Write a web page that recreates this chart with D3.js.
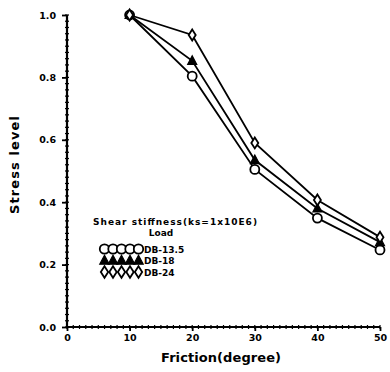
<!DOCTYPE html>
<html><head><meta charset="utf-8">
<script src="https://cdn.jsdelivr.net/npm/d3@7/dist/d3.min.js"></script>
<style>body{margin:0;background:#fff}svg{display:block}text{font-family:"DejaVu Sans",sans-serif;font-weight:bold;fill:#000}</style>
</head><body>
<script>
const friction = [10, 20, 30, 40, 50];
const db135 = [1.0, 0.804, 0.505, 0.349, 0.247];
const db18 = [1.0, 0.853, 0.535, 0.380, 0.272];
const db24 = [1.0, 0.936, 0.590, 0.407, 0.288];
const seriesNames = ["DB-13.5", "DB-18", "DB-24"];
const xTicks = [0, 10, 20, 30, 40, 50];
const yTicks = [0.0, 0.2, 0.4, 0.6, 0.8, 1.0];

const W = 390, H = 372;
const svg = d3.select("body").append("svg").attr("width", W).attr("height", H);
const x = d3.scaleLinear().domain([0, 50]).range([67, 380]);
const y = d3.scaleLinear().domain([0, 1]).range([327, 15]);

// minor ticks
const g = svg.append("g").attr("stroke", "#000");
d3.range(0, 50.01, 1).forEach(v => {
  g.append("line").attr("x1", x(v)).attr("x2", x(v)).attr("y1", y(0) - 2).attr("y2", y(0) + 2).attr("stroke-width", 1.2);
});
d3.range(0, 1.001, 0.02).forEach(v => {
  g.append("line").attr("y1", y(v)).attr("y2", y(v)).attr("x1", x(0) - 2).attr("x2", x(0) + 2).attr("stroke-width", 1.2);
});

const xAxis = svg.append("g").attr("transform", `translate(0,${y(0)})`)
  .call(d3.axisBottom(x).tickValues(xTicks).tickFormat(d3.format("d")).tickSizeOuter(0).tickSize(4).tickPadding(3));
const yAxis = svg.append("g").attr("transform", `translate(${x(0)},0)`)
  .call(d3.axisLeft(y).tickValues(yTicks).tickFormat(d3.format(".1f")).tickSizeOuter(0).tickSize(5).tickPadding(6));
[xAxis, yAxis].forEach(a => {
  a.select(".domain").attr("stroke", "#000").attr("stroke-width", 2.2);
  a.selectAll(".tick line").attr("stroke", "#000").attr("stroke-width", 1.8);
  a.selectAll("text").style("font-size", "9.5px").style("font-weight", "bold").attr("fill", "#000");
});
xAxis.select(".domain").attr("d", `M${x(0)},0H${x(50)}`);
yAxis.select(".domain").attr("d", `M0,${y(0)}V${y(1)}`);

svg.append("text").attr("x", 221).attr("y", 362).attr("text-anchor", "middle").style("font-size", "13px")
  .attr("textLength", 120).text("Friction(degree)");
svg.append("text").attr("transform", "translate(19,165) rotate(-90)").attr("text-anchor", "middle").style("font-size", "13px")
  .attr("textLength", 98).text("Stress level");

const sets = [db135, db18, db24];
const line = d3.line().x((d, i) => x(friction[i])).y(d => y(d));
sets.forEach(s => {
  svg.append("path").attr("d", line(s)).attr("fill", "none").attr("stroke", "#000").attr("stroke-width", 1.8);
});

function marker(sel, k, cx, cy, sc) {
  sc = sc || 1;
  if (k === 0) {
    sel.append("circle").attr("cx", cx).attr("cy", cy).attr("r", 4.5 * sc).attr("fill", "#fff").attr("stroke", "#000").attr("stroke-width", 1.8);
  } else if (k === 1) {
    sel.append("path").attr("d", `M${cx},${cy - 5 * sc}L${cx + 4.5 * sc},${cy + 3.5 * sc}L${cx - 4.5 * sc},${cy + 3.5 * sc}Z`).attr("fill", "#000").attr("stroke", "#000").attr("stroke-width", 1.2);
  } else {
    sel.append("path").attr("d", `M${cx},${cy - 5.5 * sc}L${cx + 3.5 * sc},${cy}L${cx},${cy + 5.5 * sc}L${cx - 3.5 * sc},${cy}Z`).attr("fill", "#fff").attr("stroke", "#000").attr("stroke-width", 1.8);
  }
}
const mg = svg.append("g");
sets.forEach((s, k) => s.forEach((v, i) => marker(mg, k, x(friction[i]), y(v))));

// legend
svg.append("text").attr("x", 93).attr("y", 225).style("font-size", "9px").attr("textLength", 164).text("Shear stiffness(ks=1x10E6)");
svg.append("text").attr("x", 161).attr("y", 236).attr("text-anchor", "middle").style("font-size", "9px").text("Load");
const rowY = [249, 260.5, 272];
seriesNames.forEach((n, k) => {
  const lg = svg.append("g");
  for (let j = 0; j < 5; j++) marker(lg, k, 104.5 + j * 8.5, rowY[k], 1.05);
  svg.append("text").attr("x", 144).attr("y", rowY[k] + 3.5).style("font-size", "9px").text(n);
});
</script>
</body></html>
